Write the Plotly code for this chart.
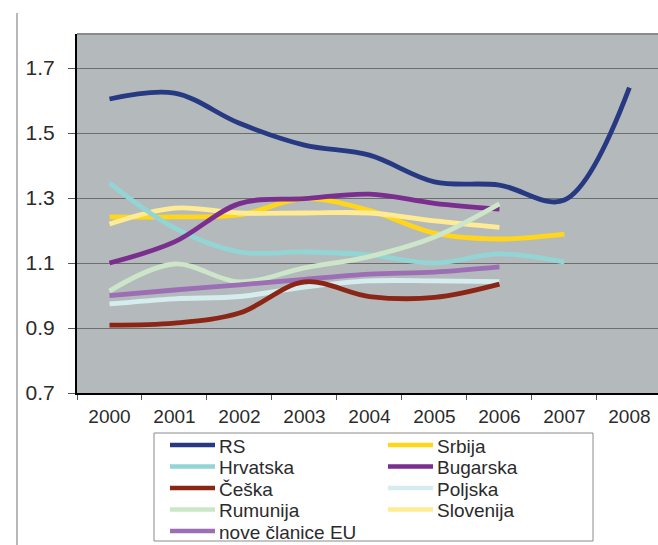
import plotly.graph_objects as go

# years on the category axis
years = ["2000", "2001", "2002", "2003", "2004", "2005", "2006", "2007", "2008"]

rs = [1.605, 1.623, 1.530, 1.463, 1.432, 1.350, 1.340, 1.294, 1.640]
srbija = [1.242, 1.242, 1.248, 1.298, 1.262, 1.192, 1.174, 1.189]
hrvatska = [1.346, 1.208, 1.134, 1.134, 1.125, 1.100, 1.128, 1.103]
bugarska = [1.100, 1.165, 1.283, 1.298, 1.312, 1.284, 1.266]
ceska = [0.909, 0.915, 0.946, 1.042, 0.997, 0.994, 1.035]
poljska = [0.974, 0.990, 0.997, 1.026, 1.045, 1.045, 1.043]
rumunija = [1.014, 1.097, 1.042, 1.085, 1.120, 1.180, 1.282]
slovenija = [1.220, 1.269, 1.254, 1.254, 1.254, 1.230, 1.210]
nove_clanice = [1.000, 1.017, 1.033, 1.050, 1.066, 1.072, 1.088]

y_ticks = [0.7, 0.9, 1.1, 1.3, 1.5, 1.7]

series = [
    ("RS", rs, "#263982"),
    ("Srbija", srbija, "#FFD619"),
    ("Hrvatska", hrvatska, "#93D5D5"),
    ("Bugarska", bugarska, "#7A2E8E"),
    ("Češka", ceska, "#8B2616"),
    ("Poljska", poljska, "#D5EDEF"),
    ("Rumunija", rumunija, "#CDE6C9"),
    ("Slovenija", slovenija, "#FFEB94"),
    ("nove članice EU", nove_clanice, "#9C6EB5"),
]

# z-order of the lines as seen in the picture
draw_order = ["RS", "Srbija", "Slovenija", "Hrvatska", "Bugarska", "Rumunija",
              "nove članice EU", "Poljska", "Češka"]

FONT = "Liberation Sans, Arial, sans-serif"
TXT = "#2b2b2b"

# plot area in pixels (used to place the hand-made legend)
W, H = 658, 545
L, T, B = 77, 34, 152
PW, PH = W - L, H - T - B


def px_x(x):
    return (x - L) / PW


def px_y(y):
    return (H - B - y) / PH


fig = go.Figure()
for name in draw_order:
    vals, col = next((v, c) for n, v, c in series if n == name)
    fig.add_trace(go.Scatter(
        x=years[:len(vals)],
        y=vals,
        name=name,
        mode="lines",
        line=dict(color=col, width=4.8, shape="spline", smoothing=1.0),
        showlegend=False,
    ))

# legend: two columns, filled row by row, inside a grey frame
shapes = [
    dict(type="rect", xref="paper", yref="paper",
         x0=px_x(154), x1=px_x(593), y0=px_y(433), y1=px_y(541),
         fillcolor="white", line=dict(color="#8A8A8A", width=1)),
]
annotations = []
for i, (name, vals, col) in enumerate(series):
    row, c = divmod(i, 2)
    x0 = 170 + c * 218
    yy = 445 + row * 21.5
    shapes.append(dict(type="line", xref="paper", yref="paper",
                       x0=px_x(x0), x1=px_x(x0 + 45), y0=px_y(yy), y1=px_y(yy),
                       line=dict(color=col, width=4.5)))
    annotations.append(dict(xref="paper", yref="paper", x=px_x(x0 + 47), y=px_y(yy + 1),
                            text=name, showarrow=False, xanchor="left", yanchor="middle",
                            font=dict(family=FONT, size=19, color=TXT)))

# grey border on top of plot area
shapes.append(dict(type="line", xref="paper", yref="paper", x0=0, x1=1, y0=1, y1=1,
                   line=dict(color="#8A8A8A", width=2)))
# thin outer frame line on the left
shapes.append(dict(type="line", xref="paper", yref="paper", x0=px_x(17), x1=px_x(17),
                   y0=px_y(13), y1=px_y(H + 5), line=dict(color="#A0A0A0", width=1.5)))

fig.update_layout(
    width=W,
    height=H,
    margin=dict(l=L, r=0, t=T, b=B, autoexpand=False),
    paper_bgcolor="white",
    plot_bgcolor="#B4BABB",
    font=dict(family=FONT, color=TXT),
    showlegend=False,
    xaxis=dict(
        type="category",
        range=[-0.5, 8.44],
        tickson="boundaries",
        ticks="outside",
        ticklen=5,
        tickcolor="#555555",
        showgrid=False,
        showline=True,
        linecolor="black",
        linewidth=2,
        tickfont=dict(family=FONT, size=19, color=TXT),
        ticklabelstandoff=5,
        automargin=False,
    ),
    yaxis=dict(
        range=[0.7, 1.805],
        tickvals=y_ticks,
        ticktext=[f"{v:.1f}" for v in y_ticks],
        ticks="outside",
        ticklen=7,
        tickcolor="#555555",
        showgrid=True,
        gridcolor="#6E6E6E",
        gridwidth=1,
        zeroline=False,
        showline=True,
        linecolor="black",
        linewidth=2,
        tickfont=dict(family=FONT, size=21, color=TXT),
        ticklabelstandoff=9,
        automargin=False,
    ),
    shapes=shapes,
    annotations=annotations,
)

fig.write_html("out.html", config={"displayModeBar": False},
               post_script="document.body.style.margin='0';")
